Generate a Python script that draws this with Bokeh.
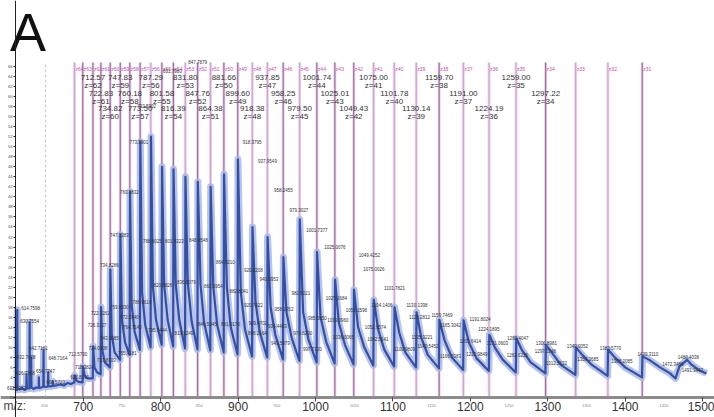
from bokeh.plotting import figure
from bokeh.models import ColumnDataSource, LabelSet, FixedTicker, Range1d
from bokeh.core.properties import value
from bokeh.embed import file_html
from bokeh.resources import INLINE

# ---------------- data ----------------
charge = [64, 63, 62, 61, 60, 59, 58, 57, 56, 55, 54, 53, 52, 51, 50, 49, 48, 47,
          46, 45, 44, 43, 42, 41, 40, 39, 38, 37, 36, 35, 34, 33, 32, 31]
line_mz = [688.7, 699.4, 712.57, 722.83, 734.82, 747.83, 760.18, 773.50, 787.29,
           801.58, 816.39, 831.80, 847.76, 864.38, 881.66, 899.60, 918.38, 937.85,
           958.25, 979.50, 1001.74, 1025.01, 1049.43, 1075.00, 1101.78, 1130.14,
           1159.70, 1191.00, 1224.19, 1259.00, 1297.22, 1336.0, 1377.6, 1422.0]
line_shade = ["l", "d", "d", "d", "d", "d", "d", "d", "l", "d", "d", "l", "d", "l",
              "d", "d", "l", "l", "d", "l", "d", "d", "d", "l", "l", "l", "d", "l",
              "l", "l", "d", "l", "l", "d"]

# labelled charge-state peaks (z = 62 ... 34)
peak_z = [62, 61, 60, 59, 58, 57, 56, 55, 54, 53, 52, 51, 50, 49, 48, 47, 46, 45,
          44, 43, 42, 41, 40, 39, 38, 37, 36, 35, 34]
peak_mz = [712.57, 722.83, 734.82, 747.83, 760.18, 773.50, 787.29, 801.58, 816.39,
           831.80, 847.76, 864.38, 881.66, 899.60, 918.38, 937.85, 958.25, 979.50,
           1001.74, 1025.01, 1049.43, 1075.00, 1101.78, 1130.14, 1159.70, 1191.00,
           1224.19, 1259.00, 1297.22]

# spectrum trace (m/z, relative intensity)
spec_mz = [612.5, 613.5, 614.5, 614.76, 615.1, 618, 621, 624, 626.5, 626.8, 627.2,
           630.4, 630.76, 631.2, 632.5, 632.74, 633.1, 636, 639, 642.5, 642.72, 643.1,
           646, 648.4, 648.72, 649.1, 652, 654.5, 654.72, 655.1, 658, 660.4, 660.57,
           661, 665, 670, 675, 680, 684, 688.4,
           688.9, 691, 694, 699.1,
           699.6, 702, 706, 712.3,
           712.8, 714.5, 718, 722.5,
           723.0, 724.5, 728, 734.5,
           735.0, 736.8, 740.5, 747.5,
           748.0, 750, 754, 759.9,
           760.4, 762.5, 766.5, 773.2,
           773.7, 776, 780, 787,
           787.5, 790, 794, 801.3,
           801.8, 804.5, 809, 816.1,
           816.6, 819.5, 824, 831.5,
           832.0, 835, 840, 847.5,
           848.0, 851.5, 856, 864.1,
           864.6, 868, 873, 881.4,
           881.9, 885.5, 890.5, 899.3,
           899.8, 903.5, 909, 918.1,
           918.6, 922.5, 928, 937.6,
           938.1, 942, 948, 958.0,
           958.5, 962.5, 969, 979.2,
           979.7, 984, 991, 1001.5,
           1002.0, 1006.5, 1014, 1024.7,
           1025.3, 1030, 1038, 1049.1,
           1049.7, 1055, 1063, 1074.7,
           1075.3, 1081, 1089, 1101.5,
           1102.1, 1108, 1116, 1129.8,
           1130.5, 1136.5, 1145, 1159.4,
           1160.0, 1166.5, 1176, 1190.7,
           1191.3, 1198, 1208, 1223.9,
           1224.5, 1231.5, 1242, 1258.7,
           1259.3, 1266.5, 1278, 1296.9,
           1297.5, 1305, 1317, 1335.7,
           1336.3, 1344.5, 1357, 1377.3,
           1377.9, 1386.5, 1400, 1421.7,
           1422.3, 1431, 1445, 1458, 1465, 1470, 1480, 1486, 1495, 1505]
spec_int = [1.4, 1.6, 1.5, 17.5, 1.8, 1.6, 1.9, 1.5, 1.7, 4.6, 1.9,
            1.8, 15.0, 2.1, 2.0, 8.0, 2.0, 1.7, 2.0, 1.9, 4.0, 1.9,
            2.0, 2.2, 9.4, 2.2, 2.1, 2.2, 5.0, 2.3, 2.2, 2.4, 3.2,
            2.3, 2.4, 2.6, 2.4, 2.9, 2.7, 3.0,
            4.4, 3.4, 3.1, 3.0,
            6.2, 4.2, 3.8, 3.8,
            10.2, 6.0, 5.0, 4.6,
            18.0, 9.5, 7.0, 6.0,
            25.5, 12.5, 9.0, 7.5,
            32.5, 15.5, 11.0, 8.5,
            41.0, 18.5, 13.0, 9.5,
            51.0, 21.0, 14.5, 10.0,
            52.0, 22.0, 15.5, 10.5,
            46.0, 22.5, 15.5, 10.2,
            45.5, 22.5, 15.5, 9.8,
            44.0, 23.0, 15.2, 9.6,
            43.0, 22.5, 15.0, 9.4,
            42.0, 22.0, 14.5, 9.0,
            44.5, 22.0, 14.0, 8.6,
            47.5, 21.0, 13.5, 8.2,
            34.0, 19.0, 13.0, 8.0,
            32.0, 18.0, 12.5, 7.6,
            28.0, 17.0, 12.0, 7.3,
            35.5, 17.0, 11.5, 7.0,
            29.0, 16.0, 11.0, 6.8,
            23.5, 15.0, 10.5, 6.6,
            21.5, 14.0, 10.0, 6.4,
            19.5, 13.5, 9.5, 6.2,
            18.0, 13.0, 9.0, 6.0,
            17.0, 12.0, 8.5, 5.8,
            15.5, 11.5, 8.0, 5.5,
            15.4, 11.0, 7.8, 5.3,
            12.5, 10.0, 7.5, 5.0,
            11.8, 9.5, 7.0, 4.8,
            10.5, 9.0, 6.5, 4.5,
            10.0, 8.5, 6.5, 4.3,
            9.5, 8.0, 6.0, 4.0,
            8.2, 7.5, 6.0, 4.8, 3.8, 6.2, 7.5, 6.5, 5.5, 4.8]

# annotated peak picks (label text, m/z, intensity)
ann_text = ["847.7879", "831.7980", "773.3901", "760.3832", "918.3795", "937.9549",
            "958.2455", "979.3027", "1001.7377", "1025.0076", "1049.4252", "1075.0026",
            "1101.7821", "1130.1398", "1159.7469", "1191.8024", "1224.1895", "747.3283",
            "734.8286", "722.3262", "726.3127", "759.8330", "772.5840", "786.9610",
            "788.8025", "801.8223", "848.9548", "820.8826", "836.8079", "864.9210",
            "862.5954", "882.8041", "614.7598", "630.7554", "642.7161", "632.7428",
            "648.7164", "626.7958", "654.7247", "660.5723", "612.5993", "712.5730",
            "718.2824", "695.8131", "724.0908", "743.3685", "733.8703", "755.9181",
            "764.7145", "795.9444", "813.5249", "846.5945", "881.9170", "898.2164",
            "909.4702", "934.4463", "943.5979", "979.6200", "997.7120", "1036.0065",
            "1052.9574", "1082.5141", "1109.9809", "1135.9221", "1140.5452", "1166.5083",
            "1165.3042", "1203.6414", "1212.9849", "1231.0603", "1269.4047", "1262.6215",
            "1300.8981", "1297.2248", "1312.5622", "1340.0052", "1359.2685", "1383.5770",
            "1388.2085", "1429.3110", "1472.3486", "1480.4038", "1491.3443", "1025.1684",
            "1051.1598", "1104.1406", "1128.2812", "982.8021", "940.5953", "920.2208",
            "920.7022", "958.1352", "985.5850", "1019.0960", "792.5902"]
ann_mz = [847.6, 815.3, 772.0, 759.7, 918.2, 938.0, 958.6, 978.6, 1001.9, 1025.1,
          1069.7, 1075.5, 1102.0, 1131.0, 1163.3, 1212.4, 1224.0, 746.8, 733.9, 722.3,
          717.8, 746.8, 759.7, 775.9, 789.4, 817.8, 848.8, 803.0, 833.3, 883.7, 868.2,
          901.1, 631.9, 630.6, 642.2, 626.1, 667.4, 625.4, 651.2, 664.2, 613.5, 693.2,
          701.6, 695.2, 719.0, 733.9, 730.0, 757.1, 763.6, 795.9, 830.1, 860.5, 890.2,
          925.0, 925.7, 950.9, 954.7, 983.8, 996.1, 1036.1, 1077.4, 1080.7, 1114.9,
          1137.5, 1145.2, 1174.3, 1174.3, 1200.1, 1208.5, 1235.0, 1261.5, 1260.8,
          1298.3, 1297.0, 1311.2, 1338.3, 1351.9, 1380.9, 1395.8, 1429.3, 1461.6,
          1481.7, 1486.8, 1027.1, 1052.9, 1085.8, 1134.3, 981.2, 939.9, 919.9, 919.9,
          959.3, 1002.5, 1029.0, 781.8]
ann_int = [66.9, 65.1, 50.9, 40.9, 51.0, 47.1, 41.4, 37.4, 33.3, 30.1, 28.5, 25.6,
           21.8, 18.5, 16.5, 15.7, 13.6, 32.5, 26.4, 16.9, 14.4, 18.1, 16.0, 19.0,
           31.3, 31.3, 31.4, 22.5, 23.1, 27.1, 22.3, 21.3, 17.8, 15.2, 9.8, 8.0, 7.8,
           4.8, 5.2, 3.0, 1.9, 8.6, 6.0, 4.0, 9.8, 11.9, 7.4, 8.9, 14.0, 13.5, 12.8,
           14.6, 14.7, 12.8, 14.8, 14.2, 10.9, 12.9, 9.7, 12.0, 14.0, 11.6, 9.7, 12.0,
           10.2, 8.2, 14.4, 11.2, 8.6, 10.9, 11.8, 8.5, 10.8, 9.2, 6.8, 10.2, 7.6, 9.8,
           7.2, 8.7, 6.7, 8.0, 5.4, 19.8, 17.5, 18.5, 16.0, 20.9, 23.7, 25.5, 18.5,
           17.7, 15.8, 15.4, 58.2]

ref_mz = [651.3]                      # grey dashed reference line
x_major = [700, 800, 900, 1000, 1100, 1200, 1300, 1400, 1500]
x_minor = [650, 750, 850, 950, 1050, 1150, 1250, 1350, 1450]
y_ticks = list(range(0, 67, 2))
x_start = 612.5                       # where the y axis sits

# ---------------- figure ----------------
p = figure(width=714, height=417, output_backend="svg", toolbar_location=None,
           x_range=Range1d(593.13, 1515.35), y_range=Range1d(-3.99, 79.16),
           min_border_left=0, min_border_right=0, min_border_top=0, min_border_bottom=0)
p.xgrid.visible = False
p.ygrid.visible = False
p.outline_line_color = None
p.background_fill_color = "white"
p.border_fill_color = "white"

# x axis (anchored at intensity 0)
xa = p.xaxis[0]
xa.fixed_location = 0
xa.ticker = FixedTicker(ticks=x_major, minor_ticks=[])
xa.axis_line_color = "#8c8c8c"
xa.axis_line_width = 3
xa.major_tick_line_color = "#444444"
xa.major_tick_out = 4
xa.major_tick_in = 0
xa.minor_tick_out = 0
xa.major_label_standoff = 1
xa.major_label_text_font = "Liberation Sans"
xa.major_label_text_font_size = "12px"
xa.major_label_text_color = "#333333"

# y axis (anchored at the start of the m/z range)
ya = p.yaxis[0]
ya.fixed_location = x_start
ya.ticker = FixedTicker(ticks=y_ticks, minor_ticks=[])
ya.axis_line_color = "#222222"
ya.axis_line_width = 1
ya.major_tick_line_color = "#222222"
ya.major_tick_out = 2
ya.major_tick_in = 0
ya.minor_tick_out = 0
ya.major_label_standoff = 1
ya.major_label_text_font = "Liberation Sans"
ya.major_label_text_font_size = "4px"
ya.major_label_text_color = "#444444"

# grey dashed reference line
p.segment(x0=ref_mz, y0=[0], x1=ref_mz, y1=[66.8], line_color="#c8c8c8",
          line_width=1, line_dash="3 2")

# charge-state lines
dark_c, light_c = "#9b6b9b", "#d0a4d0"
line_src = ColumnDataSource(dict(
    x=line_mz, y0=[0] * len(line_mz), y1=[66.8] * len(line_mz),
    c=[dark_c if s == "d" else light_c for s in line_shade],
    t=["z%d" % z for z in charge]))
p.segment(x0="x", y0="y0", x1="x", y1="y1", source=line_src,
          line_color="#ecd6ec", line_width=3)
p.segment(x0="x", y0="y0", x1="x", y1="y1", source=line_src,
          line_color="c", line_width=1.2)
p.text(x="x", y=65.5, text="t", source=line_src, x_offset=1,
       text_font=value("Liberation Sans"), text_font_size="5px",
       text_color="#c050b0", text_baseline="middle", text_align="left")

# spectrum
p.line(spec_mz, spec_int, line_color="#aab9e8", line_width=7, line_alpha=0.85,
       line_join="round")
p.line(spec_mz, spec_int, line_color="#3350a5", line_width=2.2, line_join="round")

# charge-state peak labels (3 staggered rows)
row_mz_y = [63.75, 60.64, 57.53]
row_z_y = [62.15, 59.04, 55.93]
pk_src = ColumnDataSource(dict(
    x=peak_mz,
    ym=[row_mz_y[i % 3] for i in range(len(peak_mz))],
    yz=[row_z_y[i % 3] for i in range(len(peak_mz))],
    tm=["%.2f" % m for m in peak_mz],
    tz=["z=%d" % z for z in peak_z]))
for col_y, col_t in (("ym", "tm"), ("yz", "tz")):
    p.text(x="x", y=col_y, text=col_t, source=pk_src,
           text_font=value("Liberation Sans"), text_font_size="8px",
           text_color="#333333", text_align="center", text_baseline="middle")

# small peak-pick labels
ann_src = ColumnDataSource(dict(x=ann_mz, y=ann_int, t=ann_text))
p.add_layout(LabelSet(x="x", y="y", text="t", source=ann_src,
                      text_font=value("Liberation Sans"), text_font_size="4.5px",
                      text_color="#333333", text_align="center",
                      text_baseline="middle"))

# minor x labels (tiny)
p.text(x=x_minor, y=[-1.5] * len(x_minor), text=[str(m) for m in x_minor],
       text_font=value("Liberation Sans"), text_font_size="4px",
       text_color="#888888", text_align="center", text_baseline="middle")

# panel letter and axis caption
p.text(x=[605.3], y=[72.9], text=["A"], text_font=value("Liberation Sans"),
       text_font_size="54px", text_color="#111111",
       text_baseline="middle", text_align="left")
p.text(x=[597.0], y=[-1.6], text=["m/z:"], text_font=value("Liberation Sans"),
       text_font_size="12px", text_color="#444444",
       text_baseline="middle", text_align="left")

open("out.html", "w").write(file_html(p, INLINE))
